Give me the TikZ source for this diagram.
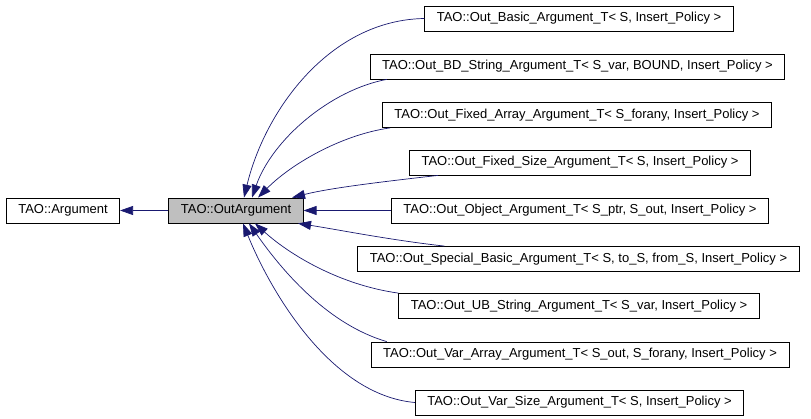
\documentclass[tikz,border=0pt]{standalone}
\usepackage{fontspec}
\setmainfont{Liberation Sans}
\usetikzlibrary{arrows.meta}
\definecolor{edgeblue}{RGB}{25,25,112}
\begin{document}
\begin{tikzpicture}[
    x=1pt, y=-1pt,
    box/.style={rectangle, draw, fill=white, line width=0.8pt, minimum height=25pt, inner xsep=12pt, inner ysep=0pt, font=\fontsize{13}{15}\selectfont},
    arrow/.style={->, >={Triangle[length=13pt,width=9pt]}, draw=edgeblue, line width=0.7pt}
]
    \useasboundingbox (0,0) rectangle (811,419);

    \node[box] (argument) at (63,210.5) {TAO::Argument};
    \node[box, fill=black!25] (outarg) at (236,210.5) {TAO::OutArgument};

    \node[box] (basic) at (579,18.5) {TAO::Out\_Basic\_Argument\_T< S, Insert\_Policy >};
    \node[box] (bdstring) at (577.5,66.5) {TAO::Out\_BD\_String\_Argument\_T< S\_var, BOUND, Insert\_Policy >};
    \node[box] (fixedarray) at (577,115) {TAO::Out\_Fixed\_Array\_Argument\_T< S\_forany, Insert\_Policy >};
    \node[box] (fixedsize) at (580,162.5) {TAO::Out\_Fixed\_Size\_Argument\_T< S, Insert\_Policy >};
    \node[box] (object) at (580,210.5) {TAO::Out\_Object\_Argument\_T< S\_ptr, S\_out, Insert\_Policy >};
    \node[box] (special) at (578.5,259) {TAO::Out\_Special\_Basic\_Argument\_T< S, to\_S, from\_S, Insert\_Policy >};
    \node[box] (ubstring) at (579,306) {TAO::Out\_UB\_String\_Argument\_T< S\_var, Insert\_Policy >};
    \node[box] (vararray) at (580,354.5) {TAO::Out\_Var\_Array\_Argument\_T< S\_out, S\_forany, Insert\_Policy >};
    \node[box] (varsize) at (579.5,402.5) {TAO::Out\_Var\_Size\_Argument\_T< S, Insert\_Policy >};

    \draw[arrow] (outarg) -- (argument);

    % children above
    \draw[arrow] (basic.west) .. controls (330,20) and (265,110) .. ([xshift=8pt]outarg.north);
    \draw[arrow] ([xshift=17pt]bdstring.south west) .. controls (330,90) and (272,140) .. ([xshift=16pt]outarg.north);
    \draw[arrow] ([xshift=8pt]fixedarray.south west) .. controls (340,135) and (290,165) .. ([xshift=22pt]outarg.north);
    \draw[arrow] ([xshift=29pt]fixedsize.south west) .. controls (380,182) and (330,188) .. ([xshift=56pt]outarg.north);
    \draw[arrow] (object) -- (outarg);
    % children below
    \draw[arrow] ([xshift=87pt]special.north west) .. controls (390,240) and (340,230) .. ([xshift=62pt]outarg.south);
    \draw[arrow] (ubstring.north west) .. controls (340,285) and (290,255) .. ([xshift=19pt]outarg.south);
    \draw[arrow] ([xshift=16pt]vararray.north west) .. controls (330,325) and (285,275) .. ([xshift=13pt]outarg.south);
    \draw[arrow] (varsize.west) .. controls (330,395) and (270,290) .. ([xshift=7pt]outarg.south);
\end{tikzpicture}
\end{document}
